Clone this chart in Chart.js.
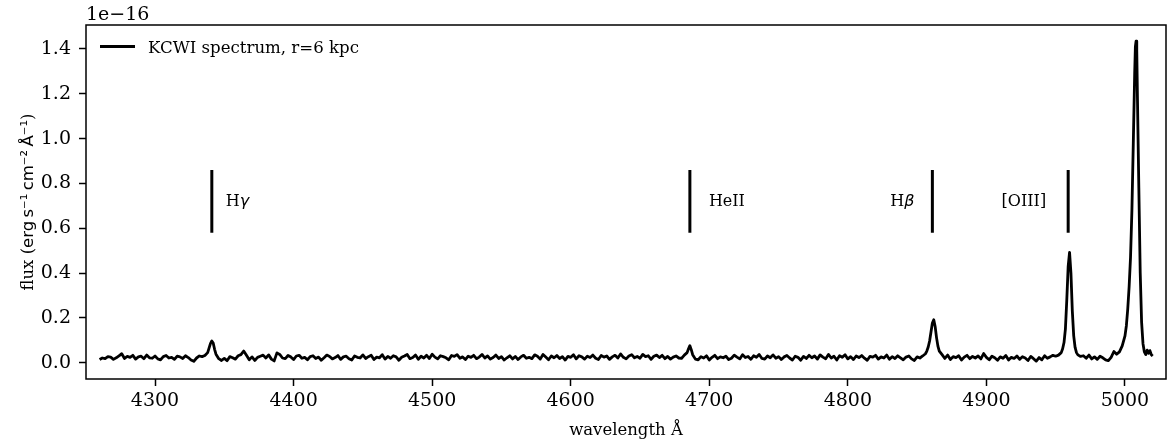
<!DOCTYPE html>
<html>
<head>
<meta charset="utf-8">
<title>KCWI spectrum, r=6 kpc</title>
<script src="https://cdn.jsdelivr.net/npm/chart.js@4/dist/chart.umd.min.js"></script>
<style>
  html, body { margin: 0; padding: 0; background: #fff; }
  #wrap { width: 1167px; height: 443px; }
</style>
</head>
<body>
<div id="wrap"><canvas id="spec" width="1167" height="443"></canvas></div>
<script>
// wavelength (Angstrom); finer sampling around the emission lines
const wave = [
  4260, 4262, 4264, 4266, 4268, 4270, 4272, 4274, 4276, 4278,
  4280, 4282, 4284, 4286, 4288, 4290, 4292, 4294, 4296, 4298,
  4300, 4302, 4304, 4306, 4308, 4310, 4312, 4314, 4316, 4318,
  4320, 4322, 4324, 4326, 4328, 4330, 4332, 4334,
  4336, 4338, 4339, 4340, 4341, 4342, 4343, 4344, 4346, 4348,
  4350, 4352, 4354, 4356, 4358, 4360, 4362, 4364, 4366, 4368,
  4370, 4372, 4374, 4376, 4378, 4380, 4382, 4384, 4386, 4388,
  4390, 4392, 4394, 4396, 4398, 4400, 4402, 4404, 4406, 4408,
  4410, 4412, 4414, 4416, 4418, 4420, 4422, 4424, 4426, 4428,
  4430, 4432, 4434, 4436, 4438, 4440, 4442, 4444, 4446, 4448,
  4450, 4452, 4454, 4456, 4458, 4460, 4462, 4464, 4466, 4468,
  4470, 4472, 4474, 4476, 4478, 4480, 4482, 4484, 4486, 4488,
  4490, 4492, 4494, 4496, 4498, 4500, 4502, 4504, 4506, 4508,
  4510, 4512, 4514, 4516, 4518, 4520, 4522, 4524, 4526, 4528,
  4530, 4532, 4534, 4536, 4538, 4540, 4542, 4544, 4546, 4548,
  4550, 4552, 4554, 4556, 4558, 4560, 4562, 4564, 4566, 4568,
  4570, 4572, 4574, 4576, 4578, 4580, 4582, 4584, 4586, 4588,
  4590, 4592, 4594, 4596, 4598, 4600, 4602, 4604, 4606, 4608,
  4610, 4612, 4614, 4616, 4618, 4620, 4622, 4624, 4626, 4628,
  4630, 4632, 4634, 4636, 4638, 4640, 4642, 4644, 4646, 4648,
  4650, 4652, 4654, 4656, 4658, 4660, 4662, 4664, 4666, 4668,
  4670, 4672, 4674, 4676, 4678, 4680, 4682,
  4684, 4685, 4686, 4687, 4688, 4690,
  4692, 4694, 4696, 4698, 4700, 4702, 4704, 4706, 4708, 4710,
  4712, 4714, 4716, 4718, 4720, 4722, 4724, 4726, 4728, 4730,
  4732, 4734, 4736, 4738, 4740, 4742, 4744, 4746, 4748, 4750,
  4752, 4754, 4756, 4758, 4760, 4762, 4764, 4766, 4768, 4770,
  4772, 4774, 4776, 4778, 4780, 4782, 4784, 4786, 4788, 4790,
  4792, 4794, 4796, 4798, 4800, 4802, 4804, 4806, 4808, 4810,
  4812, 4814, 4816, 4818, 4820, 4822, 4824, 4826, 4828, 4830,
  4832, 4834, 4836, 4838, 4840, 4842, 4844, 4846, 4848, 4850, 4852,
  4854, 4856, 4857, 4858, 4859, 4860, 4861, 4862, 4863, 4864, 4865, 4866, 4868,
  4870, 4872, 4874, 4876, 4878, 4880, 4882, 4884, 4886, 4888,
  4890, 4892, 4894, 4896, 4898, 4900, 4902, 4904, 4906, 4908,
  4910, 4912, 4914, 4916, 4918, 4920, 4922, 4924, 4926, 4928,
  4930, 4932, 4934, 4936, 4938, 4940, 4942, 4944, 4946, 4948, 4950,
  4952, 4954, 4955, 4956, 4957, 4958, 4959, 4960, 4961, 4962, 4963, 4964, 4965, 4966, 4968,
  4970, 4972, 4974, 4976, 4978, 4980, 4982, 4984, 4986, 4988, 4990, 4992, 4994,
  4996, 4998, 5000, 5001, 5002, 5003, 5004, 5005, 5006, 5007, 5007.5, 5008, 5008.5,
  5009, 5010, 5011, 5012, 5013, 5014, 5015, 5016, 5017, 5018, 5019, 5020
];

// flux in units of 1e-16 erg/s/cm2/A
const flux = [
  0.014, 0.021, 0.018, 0.027, 0.025, 0.015, 0.022, 0.031, 0.040, 0.019,
  0.028, 0.024, 0.033, 0.016, 0.026, 0.029, 0.018, 0.034, 0.022, 0.020,
  0.030, 0.017, 0.013, 0.027, 0.032, 0.021, 0.024, 0.015, 0.029, 0.026,
  0.019, 0.031, 0.023, 0.012, 0.006, 0.021, 0.030, 0.027,
  0.032, 0.045, 0.065, 0.085, 0.097, 0.088, 0.060, 0.038, 0.018, 0.010,
  0.019, 0.009, 0.027, 0.022, 0.016, 0.031, 0.036, 0.052, 0.033, 0.013,
  0.026, 0.010, 0.024, 0.029, 0.034, 0.021, 0.035, 0.016, 0.008, 0.044,
  0.037, 0.021, 0.018, 0.032, 0.026, 0.014, 0.030, 0.033, 0.020, 0.024,
  0.013, 0.027, 0.031, 0.019, 0.025, 0.011, 0.022, 0.034, 0.028, 0.017,
  0.023, 0.032, 0.015, 0.026, 0.029, 0.018, 0.012, 0.030, 0.024, 0.021,
  0.035, 0.019, 0.027, 0.033, 0.014, 0.025, 0.022, 0.036, 0.016, 0.028,
  0.020, 0.031, 0.026, 0.011, 0.024, 0.030, 0.037, 0.018, 0.023, 0.034,
  0.015, 0.029, 0.021, 0.033, 0.019, 0.038, 0.025, 0.017, 0.031, 0.027,
  0.022, 0.013, 0.032, 0.028, 0.036, 0.020, 0.026, 0.014, 0.029, 0.024,
  0.033, 0.018, 0.025, 0.037, 0.021, 0.030, 0.016, 0.023, 0.034, 0.019,
  0.027, 0.012, 0.022, 0.031, 0.017, 0.028, 0.014, 0.026, 0.033, 0.020,
  0.024, 0.018, 0.035, 0.029, 0.016, 0.037, 0.025, 0.013, 0.030, 0.022,
  0.032, 0.019, 0.027, 0.012, 0.028, 0.024, 0.036, 0.017, 0.031, 0.026,
  0.016, 0.029, 0.023, 0.034, 0.020, 0.014, 0.032, 0.025, 0.030, 0.015,
  0.026, 0.033, 0.021, 0.039, 0.024, 0.017, 0.030, 0.036, 0.022, 0.028,
  0.020, 0.037, 0.027, 0.031, 0.015, 0.029, 0.034, 0.023, 0.033, 0.018,
  0.028, 0.016, 0.025, 0.030, 0.021, 0.019, 0.034,
  0.045, 0.062, 0.076, 0.058, 0.036, 0.016,
  0.013, 0.027, 0.021, 0.031, 0.012, 0.024, 0.033, 0.018, 0.026, 0.022,
  0.029, 0.014, 0.020, 0.034, 0.025, 0.017, 0.036, 0.023, 0.028, 0.015,
  0.031, 0.024, 0.037, 0.019, 0.016, 0.030, 0.022, 0.035, 0.020, 0.027,
  0.014, 0.026, 0.032, 0.021, 0.012, 0.029, 0.024, 0.011, 0.028, 0.019,
  0.033, 0.022, 0.030, 0.016, 0.035, 0.025, 0.018, 0.037, 0.021, 0.029,
  0.012, 0.031, 0.024, 0.036, 0.017, 0.027, 0.014, 0.030, 0.023, 0.032,
  0.020, 0.011, 0.028, 0.025, 0.033, 0.016, 0.026, 0.021, 0.034, 0.015,
  0.027, 0.019, 0.031, 0.022, 0.013, 0.025, 0.030, 0.017, 0.010, 0.026, 0.021,
  0.030, 0.040, 0.052, 0.070, 0.097, 0.137, 0.177, 0.192, 0.162, 0.112, 0.074, 0.052, 0.036,
  0.019, 0.034, 0.014, 0.027, 0.023, 0.031, 0.012, 0.025, 0.033, 0.018,
  0.028, 0.021, 0.030, 0.017, 0.041, 0.024, 0.013, 0.029, 0.022, 0.011,
  0.026, 0.020, 0.032, 0.012, 0.024, 0.019, 0.030, 0.015, 0.027, 0.021,
  0.010, 0.028, 0.018, 0.007, 0.023, 0.013, 0.031, 0.020, 0.026, 0.033, 0.029,
  0.034, 0.045, 0.062, 0.090, 0.150, 0.280, 0.430, 0.492, 0.400, 0.230, 0.120, 0.068, 0.045, 0.035, 0.028,
  0.031, 0.020, 0.034, 0.017, 0.026, 0.015, 0.029, 0.022, 0.013, 0.009, 0.024, 0.050, 0.038,
  0.048, 0.075, 0.120, 0.165, 0.240, 0.340, 0.470, 0.680, 0.980, 1.290, 1.410, 1.435, 1.395,
  1.180, 0.780, 0.400, 0.180, 0.085, 0.048, 0.036, 0.056, 0.042, 0.054, 0.036, 0.030
];

// line markers
const lineNames = ['H\u03b3', 'HeII', 'H\u03b2', '[OIII]'];
const lineWaves = [4341, 4686, 4861, 4959];
const markLow = 0.58;
const markHigh = 0.86;
const labelFlux = 0.70;

const xTicks = [4300, 4400, 4500, 4600, 4700, 4800, 4900, 5000];
const yTicks = [0.0, 0.2, 0.4, 0.6, 0.8, 1.0, 1.2, 1.4];

const seriesLabel = 'KCWI spectrum, r=6 kpc';

if (wave.length !== flux.length) console.warn('length mismatch', wave.length, flux.length);

// label placement (px from the marker line) and alignment
const labelStyle = [
  { dx: 14, align: 'left' },
  { dx: 19, align: 'left' },
  { dx: -18, align: 'right' },
  { dx: -22, align: 'right' }
];

const SERIF = '"DejaVu Serif", serif';
const SANS = '"DejaVu Sans", sans-serif';

function runs(text) {
  // greek letters as math italic, the rest serif
  const out = [];
  for (const ch of text) {
    const greek = ch >= '\u0370' && ch <= '\u03ff';
    const font = greek ? 'italic 16px ' + SANS : '16px ' + SERIF;
    if (out.length && out[out.length - 1][1] === font) out[out.length - 1][0] += ch;
    else out.push([ch, font]);
  }
  return out;
}

function drawRuns(ctx, parts, x, y, align) {
  let w = 0;
  parts.forEach(p => { ctx.font = p[1]; w += ctx.measureText(p[0]).width; });
  let cx = align === 'right' ? x - w : (align === 'center' ? x - w / 2 : x);
  ctx.textAlign = 'left';
  parts.forEach(p => {
    ctx.font = p[1];
    ctx.fillText(p[0], cx, y);
    cx += ctx.measureText(p[0]).width;
  });
  return w;
}

const overlay = {
  id: 'overlay',
  afterDraw(chart) {
    const { ctx, chartArea: a, scales: { x, y } } = chart;
    ctx.save();
    ctx.strokeStyle = '#000';
    ctx.lineWidth = 1.5;
    ctx.strokeRect(a.left, a.top, a.right - a.left, a.bottom - a.top);

    ctx.fillStyle = '#000';
    ctx.textBaseline = 'alphabetic';

    // offset text
    ctx.font = '19px ' + SERIF;
    ctx.textAlign = 'left';
    ctx.fillText('1e\u221216', a.left, a.top - 5);

    // legend
    ctx.lineWidth = 2.8;
    ctx.beginPath();
    ctx.moveTo(a.left + 14, a.top + 21.5);
    ctx.lineTo(a.left + 49, a.top + 21.5);
    ctx.stroke();
    ctx.font = '16.6px ' + SERIF;
    ctx.fillText(seriesLabel, a.left + 62, a.top + 28);

    // line names
    lineNames.forEach((name, i) => {
      const px = x.getPixelForValue(lineWaves[i]) + labelStyle[i].dx;
      const py = y.getPixelForValue(labelFlux);
      drawRuns(ctx, runs(name), px, py, labelStyle[i].align);
    });

    // x title
    ctx.font = '16.5px ' + SERIF;
    ctx.textAlign = 'center';
    ctx.fillText('wavelength \u00c5', (a.left + a.right) / 2, a.bottom + 56);

    // y title
    ctx.translate(33, (a.top + a.bottom) / 2);
    ctx.rotate(-Math.PI / 2);
    drawRuns(ctx, [
      ['flux (', '16.5px ' + SERIF],
      ['erg\u2009s\u207b\u00b9\u2009cm\u207b\u00b2\u2009\u00c5\u207b\u00b9', '16.5px ' + SANS],
      [')', '16.5px ' + SERIF]
    ], 0, 0, 'center');
    ctx.restore();
  }
};

const datasets = [{
  label: seriesLabel,
  data: wave.map((w, i) => ({ x: w, y: flux[i] })),
  borderColor: '#000',
  borderWidth: 2.8,
  borderJoinStyle: 'round',
  pointRadius: 0,
  tension: 0
}];
lineWaves.forEach(w => {
  datasets.push({
    label: 'marker',
    data: [{ x: w, y: markLow }, { x: w, y: markHigh }],
    borderColor: '#000',
    borderWidth: 3,
    pointRadius: 0
  });
});

const tickFont = { family: SERIF, size: 19 };

new Chart(document.getElementById('spec'), {
  type: 'line',
  data: { datasets: datasets },
  options: {
    responsive: false,
    animation: false,
    devicePixelRatio: 1,
    layout: { padding: { top: 25, right: 1, left: 0, bottom: 0 } },
    plugins: { legend: { display: false }, tooltip: { enabled: false } },
    scales: {
      x: {
        type: 'linear',
        min: 4250.2,
        max: 5029.6,
        afterBuildTicks: s => { s.ticks = xTicks.map(v => ({ value: v })); },
        afterFit: s => { s.height = 64; },
        border: { display: false },
        grid: { drawOnChartArea: false, drawTicks: true, tickLength: 7, tickColor: '#000', tickWidth: 1.5 },
        ticks: { font: tickFont, color: '#000', padding: 4, maxRotation: 0, minRotation: 0, autoSkip: false,
                 callback: v => String(v) }
      },
      y: {
        type: 'linear',
        min: -0.0727,
        max: 1.5071,
        afterBuildTicks: s => { s.ticks = yTicks.map(v => ({ value: v })); },
        afterFit: s => { s.width = 86; },
        border: { display: false },
        grid: { drawOnChartArea: false, drawTicks: true, tickLength: 7, tickColor: '#000', tickWidth: 1.5 },
        ticks: { font: tickFont, color: '#000', padding: 8, autoSkip: false,
                 callback: v => Number(v).toFixed(1) }
      }
    }
  },
  plugins: [overlay]
});
</script>
</body>
</html>
